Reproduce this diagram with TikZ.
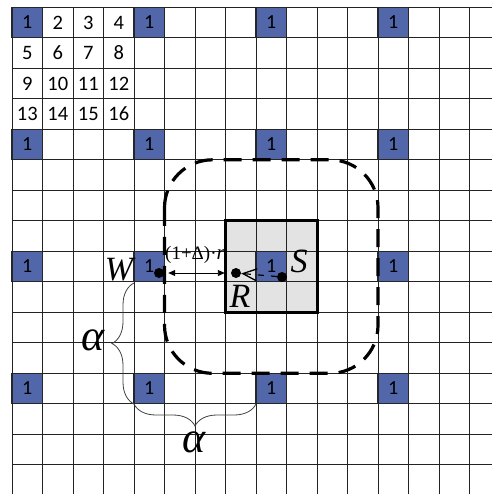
\documentclass[tikz,border=0pt]{standalone}
\usepackage{fontspec}
\setmainfont{Carlito}
\newfontfamily\timesf{Liberation Serif}
\usetikzlibrary{arrows.meta,decorations.pathreplacing}
\definecolor{cellblue}{RGB}{82,102,170}
\definecolor{gridc}{RGB}{35,35,35}
\begin{document}
\begin{tikzpicture}[x=1pt,y=-1pt,
  gridline/.style={draw=gridc,line width=1pt},
  bluecell/.style={draw=black!85,line width=1.3pt,fill=cellblue,minimum width=30.5pt,minimum height=30.5pt,inner sep=0pt,font=\fontsize{20}{20}\selectfont},
  numcell/.style={inner sep=0pt,font=\fontsize{20.5}{20.5}\selectfont},
  dot/.style={circle,fill=black,minimum size=10pt,inner sep=0pt},
  biglab/.style={inner sep=0pt,font=\timesf\itshape\fontsize{34}{34}\selectfont},
  alab/.style={inner sep=0pt,font=\timesf\itshape\fontsize{44}{44}\selectfont},
  bracestyle/.style={draw=black!75,line width=0.8pt,decorate,decoration={brace,amplitude=22pt}},
  region/.style={line width=3pt},
  wave/.style={line width=3.2pt,dash pattern=on 18pt off 11pt,rounded corners=48pt}
]
\useasboundingbox (0,0) rectangle (492,494);
% shaded 3x3 block
\fill[gray!22] (225.5,220.8) rectangle (317,312.3);
% grid
\foreach \i in {0,...,15} \draw[gridline] ({12+30.5*\i},7.3) -- ({12+30.5*\i},494);
\foreach \j in {0,...,15} \draw[gridline] (12,{7.3+30.5*\j}) -- (492,{7.3+30.5*\j});
% blue cells
\foreach \i in {0,4,8,12} {
  \foreach \j in {0,4,8,12} {
    \node[bluecell] (b\i-\j) at ({12+30.5*(\i+0.5)},{7.3+30.5*(\j+0.5)}) {1};
  }
}
% numbers
\foreach \n in {2,...,16} {
  \pgfmathtruncatemacro{\c}{mod(\n-1,4)}
  \pgfmathtruncatemacro{\r}{div(\n-1,4)}
  \node[numcell] (n\n) at ({12+30.5*(\c+0.5)},{7.3+30.5*(\r+0.5)}) {\n};
}
% thick border
\draw[region] (225.5,220.8) rectangle (317,312.3);
% dashed rounded region
\draw[wave] (164.5,159.8) rectangle (378,373.3);
% dots
\node[dot] (Wd) at (159,273) {};
\node[dot] (Rd) at (236,273) {};
\node[dot] (Sd) at (282,277) {};
% arrows
\draw[line width=0.9pt,{Triangle[length=7pt,width=6pt]}-{Triangle[length=7pt,width=6pt]},shorten <=4pt,shorten >=6pt] (Wd) -- (Rd);
\draw[line width=1.2pt,dash pattern=on 6pt off 7pt,-{Straight Barb[length=14pt,width=12pt,line width=1.3pt]}] (Sd) -- (Rd);
% labels
\node[inner sep=0pt,font=\timesf\fontsize{19}{19}\selectfont] (lr) at (195,255) {(1+Δ)·\textit{\fontsize{21}{21}\selectfont r}};
\node[biglab] (W) at (119,270) {W};
\node[biglab] (S) at (299,261) {S};
\node[biglab] (R) at (240,296) {R};
% braces
\coordinate (v1) at (134,404);
\coordinate (v2) at (134,283);
\coordinate (h1) at (256,404);
\coordinate (h2) at (134,404);
\draw[bracestyle] (v1) -- (v2);
\draw[bracestyle] (h1) -- (h2);
\node[alab] (a1) at (93,340) {α};
\node[alab] (a2) at (194,442) {α};
\end{tikzpicture}
\end{document}
